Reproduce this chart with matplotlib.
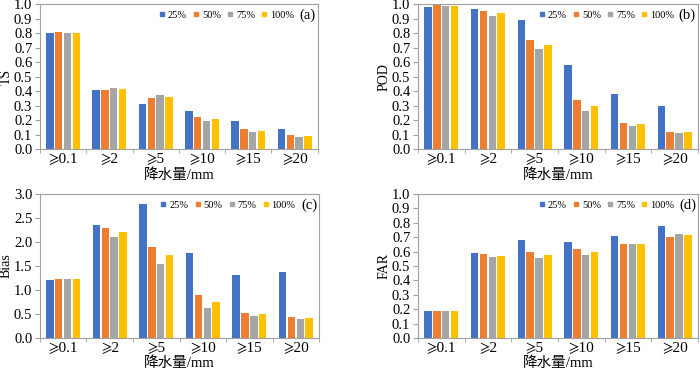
import numpy as np
import matplotlib
matplotlib.use('Agg')
import matplotlib.pyplot as plt
from matplotlib.lines import Line2D

plt.rcParams['font.family'] = ['Liberation Serif', 'STIXGeneral', 'DejaVu Sans', 'Noto Sans CJK SC']
plt.rcParams['axes.unicode_minus'] = False

categories = ['⩾0.1', '⩾2', '⩾5', '⩾10', '⩾15', '⩾20']
series = ['25%', '50%', '75%', '100%']
colors = ['#4472C4', '#ED7D31', '#A5A5A5', '#FFC000']

# rows: categories, columns: series
ts = [[0.80, 0.81, 0.80, 0.80],
      [0.41, 0.41, 0.42, 0.415],
      [0.31, 0.35, 0.37, 0.36],
      [0.265, 0.22, 0.195, 0.205],
      [0.195, 0.135, 0.12, 0.125],
      [0.14, 0.095, 0.085, 0.09]]
pod = [[0.98, 1.0, 0.985, 0.99],
       [0.965, 0.955, 0.915, 0.935],
       [0.89, 0.755, 0.69, 0.72],
       [0.58, 0.34, 0.26, 0.30],
       [0.38, 0.18, 0.16, 0.17],
       [0.295, 0.12, 0.11, 0.115]]
bias = [[1.21, 1.23, 1.22, 1.23],
        [2.35, 2.30, 2.10, 2.20],
        [2.80, 1.90, 1.55, 1.73],
        [1.77, 0.90, 0.62, 0.76],
        [1.31, 0.52, 0.46, 0.49],
        [1.37, 0.43, 0.40, 0.41]]
far = [[0.185, 0.19, 0.19, 0.19],
       [0.59, 0.585, 0.56, 0.57],
       [0.68, 0.60, 0.555, 0.58],
       [0.67, 0.62, 0.575, 0.60],
       [0.71, 0.65, 0.65, 0.65],
       [0.78, 0.705, 0.72, 0.715]]

# data, ylabel, tag, ymax, ystep, axes rect, ylabel x (axes coords)
panels = [
    (ts, 'TS', '(a)', 1.0, 0.1, [0.057, 0.596, 0.397, 0.393], -0.098),
    (pod, 'POD', '(b)', 1.0, 0.1, [0.597, 0.596, 0.400, 0.393], -0.096),
    (bias, 'Bias', '(c)', 3.0, 0.5, [0.057, 0.084, 0.399, 0.390], -0.098),
    (far, 'FAR', '(d)', 1.0, 0.1, [0.597, 0.084, 0.400, 0.390], -0.096),
]

fig = plt.figure(figsize=(7, 3.69), dpi=100)
x = np.arange(len(categories))
w = 0.16
step = 0.19
edge = '#A0A0A0'

for data, ylab, tag, ymax, ystep, pos, ylx in panels:
    ax = fig.add_axes(pos)
    arr = np.array(data)
    for j in range(len(series)):
        ax.bar(x + (j - 1.5) * step, arr[:, j], width=w, color=colors[j], zorder=2)
    ax.set_xlim(-0.5, len(categories) - 0.5)
    ax.set_ylim(0, ymax)
    ax.set_yticks(np.arange(0, ymax + ystep / 2, ystep))
    ax.yaxis.set_major_formatter(matplotlib.ticker.FormatStrFormatter('%.1f'))
    ax.set_xticks(x)
    ax.set_xticklabels(categories)
    ax.set_xticks(np.arange(-0.5, len(categories), 1.0), minor=True)
    ax.tick_params(axis='x', which='major', length=0, labelsize=11, pad=3)
    ax.tick_params(axis='x', which='minor', length=3, color=edge, direction='out')
    ax.tick_params(axis='y', length=3.5, color=edge, labelsize=10.5, pad=2)
    for s in ax.spines.values():
        s.set_color(edge)
        s.set_linewidth(0.8)
    ax.set_ylabel(ylab, fontsize=10)
    ax.yaxis.set_label_coords(ylx, 0.5)
    ax.set_xlabel('降水量/mm', fontsize=10.5)
    ax.xaxis.set_label_coords(0.5, -0.13)
    handles = [Line2D([], [], marker='s', linestyle='none', markersize=3.5,
                      color=c) for c in colors]
    ax.legend(handles, series, loc='center right', bbox_to_anchor=(0.915, 0.925),
              ncol=4, frameon=False, fontsize=7.5, handletextpad=0.15,
              columnspacing=0.5, handlelength=0.8, borderaxespad=0.0,
              borderpad=0.0)
    ax.text(0.993, 0.925, tag, transform=ax.transAxes, ha='right', va='center',
            fontsize=10.5)

fig.savefig('out.png', dpi=100)
